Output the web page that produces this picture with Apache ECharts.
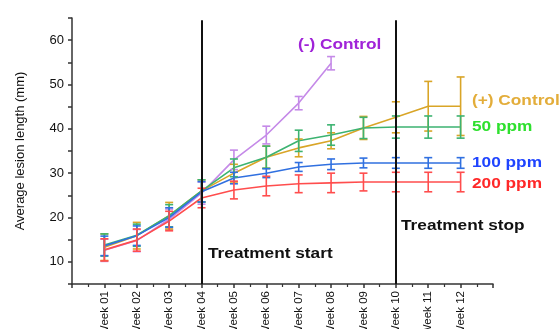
<!DOCTYPE html>
<html><head><meta charset="utf-8">
<script src="https://cdn.jsdelivr.net/npm/echarts@6/dist/echarts.min.js"></script>
<style>html,body{margin:0;padding:0;background:#fff}#c{width:560px;height:329px}</style>
</head><body><div id="c"></div>
<script>
const weeks = [1,2,3,4,5,6,7,8,9,10,11,12];
const weekLabels = ['Week 01','Week 02','Week 03','Week 04','Week 05','Week 06','Week 07','Week 08','Week 09','Week 10','Week 11','Week 12'];
const negControl = [12.6,14.8,19.6,25.5,33.0,38.6,45.8,54.8];
const negControlErr = [2.5,2.5,2.3,2.5,2.2,2.0,1.5,1.5];
const posControl = [13.3,15.9,20.4,26.0,30.0,33.6,35.7,37.3,40.2,42.6,45.1,45.1];
const posControlErr = [3.0,3.0,3.0,2.5,2.0,2.5,2.0,1.8,2.6,3.5,5.6,6.6];
const ppm50 = [13.8,16.0,20.4,26.0,31.2,33.6,37.3,38.6,40.2,40.4,40.4,40.4];
const ppm50Err = [2.5,2.5,2.5,2.5,2.0,2.5,2.4,2.3,2.4,2.5,2.5,2.5];
const ppm100 = [13.6,15.9,20.0,25.8,28.9,30.0,31.4,32.0,32.3,32.3,32.3,32.3];
const ppm100Err = [2.2,2.2,2.2,2.3,1.3,1.0,1.0,1.2,1.1,1.2,1.2,1.2];
const ppm200 = [12.7,14.9,19.2,24.4,26.2,27.1,27.6,27.8,28.0,28.0,28.0,28.0];
const ppm200Err = [2.5,2.5,2.2,2.2,2.0,2.2,2.0,2.2,2.0,2.2,2.2,2.2];
const yTicks = [10,20,30,40,50,60];
const markWeeks = [4,10];

const groups = [
  {name:'(-) Control', vals:negControl, err:negControlErr, color:'#c58ae8'},
  {name:'(+) Control', vals:posControl, err:posControlErr, color:'#d9a527'},
  {name:'50 ppm', vals:ppm50, err:ppm50Err, color:'#3cb371'},
  {name:'100 ppm', vals:ppm100, err:ppm100Err, color:'#3070e0'},
  {name:'200 ppm', vals:ppm200, err:ppm200Err, color:'#ff4d4d'}
];

const series = [];
groups.forEach(g => {
  series.push({
    type:'line', name:g.name, symbol:'none',
    data:g.vals.map((v,i)=>[weeks[i], v]),
    lineStyle:{color:g.color, width:1.6}, z:2
  });
  series.push({
    type:'custom', name:g.name+' err',
    data:g.vals.map((v,i)=>[weeks[i], v-g.err[i], v+g.err[i]]),
    renderItem:(params, api)=>{
      const x = api.value(0);
      const lo = api.coord([x, api.value(1)]);
      const hi = api.coord([x, api.value(2)]);
      const w = 4;
      const st = {stroke:g.color, lineWidth:1.6};
      return {type:'group', children:[
        {type:'line', shape:{x1:lo[0],y1:lo[1],x2:hi[0],y2:hi[1]}, style:st},
        {type:'line', shape:{x1:lo[0]-w,y1:lo[1],x2:lo[0]+w,y2:lo[1]}, style:st},
        {type:'line', shape:{x1:hi[0]-w,y1:hi[1],x2:hi[0]+w,y2:hi[1]}, style:st}
      ]};
    }, z:3
  });
});
series.push({
  type:'line', data:[], silent:true,
  markLine:{silent:true, symbol:'none', label:{show:false},
    lineStyle:{color:'#111', width:2, type:'solid'},
    data:markWeeks.map(w=>[{coord:[w,64.5]},{coord:[w,5]}])}
});

const labelFont = 'bold 15px "Liberation Sans", Arial, sans-serif';
function txt(t, x, y, fill){
  return {type:'text', x:x, y:y, scaleX:1.15, style:{text:t, font:labelFont, fill:fill, textVerticalAlign:'middle'}, z:10};
}

const chart = echarts.init(document.getElementById('c'), null, {renderer:'canvas'});
chart.setOption({
  animation:false,
  grid:{left:72, right:67, top:18, bottom:45, containLabel:false, outerBoundsMode:'none'},
  xAxis:{type:'value', min:0, max:13, interval:1,
    axisLine:{show:true, lineStyle:{color:'#333', width:1.5}},
    axisTick:{show:true, inside:false, length:4, lineStyle:{color:'#333', width:1.5}},
    minorTick:{show:true, splitNumber:2, length:3, lineStyle:{color:'#333', width:1.2}},
    splitLine:{show:false},
    axisLabel:{rotate:90, fontSize:11.5, color:'#111', margin:7,
      fontFamily:'"Liberation Sans", Arial, sans-serif',
      formatter:v=>{const i=weeks.indexOf(v); return i>=0?weekLabels[i]:'';}}
  },
  yAxis:{type:'value', min:5, max:65, interval:5,
    name:'Average lesion length (mm)', nameLocation:'middle', nameGap:45,
    nameTextStyle:{fontSize:13, color:'#111', fontFamily:'"Liberation Sans", Arial, sans-serif'},
    axisLine:{show:true, lineStyle:{color:'#333', width:1.5}},
    axisTick:{show:true, inside:false, length:4, lineStyle:{color:'#333', width:1.5}},
    splitLine:{show:false},
    axisLabel:{fontSize:13, color:'#111', margin:8,
      fontFamily:'"Liberation Sans", Arial, sans-serif',
      formatter:v=>yTicks.includes(v)?String(v):''}
  },
  series:series,
  graphic:[
    txt('(-) Control', 298, 45, '#a023d8'),
    txt('(+) Control', 472, 101, '#e3ad3a'),
    txt('50 ppm', 472, 127, '#2ee02e'),
    txt('100 ppm', 472, 163, '#1f44ff'),
    txt('200 ppm', 472, 184, '#ff2828'),
    txt('Treatment start', 208, 254, '#111'),
    txt('Treatment stop', 401, 226, '#111')
  ]
});
</script></body></html>
